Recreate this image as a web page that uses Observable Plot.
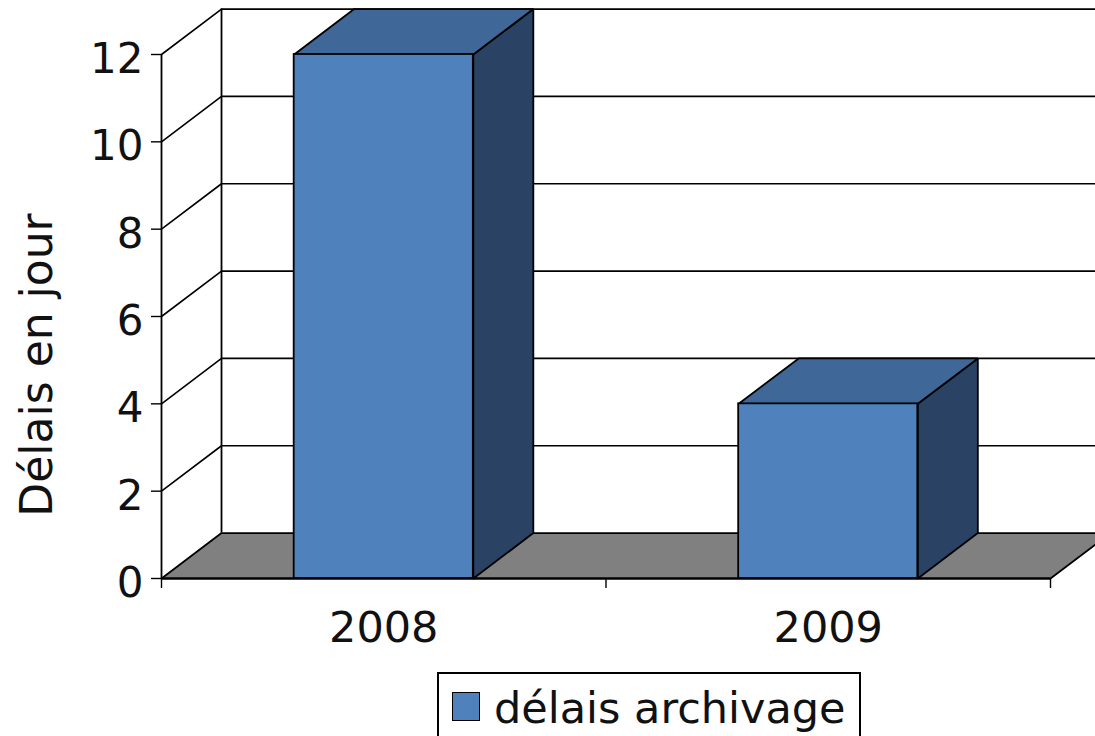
<!DOCTYPE html>
<html lang="fr">
<head>
<meta charset="utf-8">
<script src="https://cdn.jsdelivr.net/npm/d3@7"></script>
<script src="https://cdn.jsdelivr.net/npm/@observablehq/plot@0.6"></script>
<style>
html,body{margin:0;padding:0;background:#fff;overflow:hidden;width:1095px;height:736px}
#legend{position:absolute;left:437px;top:672px;width:420px;height:80px;border:2px solid #000;box-sizing:content-box;background:#fff;font:43px "DejaVu Sans",sans-serif;color:#111}
#legend i{position:absolute;left:13px;top:18px;width:26px;height:27px;background:#4F81BD;border:1.5px solid #000}
#legend span{position:absolute;left:55px;top:9px;white-space:nowrap}
</style>
</head>
<body>
<div id="chart"></div>
<div id="legend"><i></i><span>délais archivage</span></div>
<script>
const categories = ["2008", "2009"];
const delays = [12, 4];
const yTicks = [0, 2, 4, 6, 8, 10, 12];
const seriesName = "délais archivage";
const yTitle = "Délais en jour";

const depthX = 0.135, depthY = 1.04, barWidth = 0.403;
const colors = {front: "#4F81BD", top: "#3F6797", side: "#2A4365", floor: "#808080"};
const bars = categories.map((c, i) => ({c, v: delays[i], x1: i + 0.5 - barWidth / 2, x2: i + 0.5 + barWidth / 2}));

const poly = (pts) => pts.map(([x, y]) => ({x, y}));
const closed = (pts) => poly([...pts, pts[0]]);

const face = (pts, fill) => Plot.line(closed(pts), {x: "x", y: "y", fill, stroke: "#000", strokeWidth: 1.8, strokeLinejoin: "miter", curve: "linear"});

const gridLines = yTicks.slice(1).flatMap(v => [
  {x: 0, y: v, z: v}, {x: depthX, y: v + depthY, z: v}, {x: 2.2, y: v + depthY, z: v}
]);

const barMarks = bars.flatMap(b => [
  face([[b.x2, 0], [b.x2 + depthX, depthY], [b.x2 + depthX, b.v + depthY], [b.x2, b.v]], colors.side),
  face([[b.x1, b.v], [b.x2, b.v], [b.x2 + depthX, b.v + depthY], [b.x1 + depthX, b.v + depthY]], colors.top),
  Plot.rect([b], {x1: "x1", x2: "x2", y1: 0, y2: "v", fill: colors.front, stroke: "#000", strokeWidth: 1.8})
]);

const chart = Plot.plot({
  width: 1095, height: 672,
  marginTop: 0, marginRight: 0, marginBottom: 0, marginLeft: 0,
  style: {fontFamily: "'DejaVu Sans', sans-serif", color: "#000", background: "#fff", overflow: "hidden"},
  x: {type: "linear", domain: [0, 2], range: [161, 1050]},
  y: {type: "linear", domain: [0, 12], range: [578, 54]},
  marks: [
    Plot.line(gridLines, {x: "x", y: "y", z: "z", stroke: "#000", strokeWidth: 1.6}),
    face([[0, 0], [2, 0], [2 + depthX, depthY], [depthX, depthY]], colors.floor),
    Plot.ruleX([depthX], {y1: depthY, y2: 12 + depthY, stroke: "#000", strokeWidth: 1.8}),
    Plot.ruleY([0], {x1: 0, x2: 2, stroke: "#000", strokeWidth: 2}),
    ...barMarks,
    Plot.ruleX([0], {y1: 0, y2: 12, stroke: "#000", strokeWidth: 1.8}),
    Plot.axisY({ticks: yTicks, tickSize: 10, tickFormat: () => "", label: null, anchor: "left", x: 0, strokeWidth: 1.4}),
    Plot.axisX({ticks: [0, 1, 2], tickSize: 10, tickFormat: () => "", label: null, anchor: "bottom", y: 0, strokeWidth: 1.4}),
    Plot.text(yTicks, {x: 0, y: d => d, text: d => String(d), textAnchor: "end", dx: -18, dy: 5, fontSize: 42, fill: "#111"}),
    Plot.text(categories, {x: (d, i) => i + 0.5, y: 0, text: d => d, dy: 50, fontSize: 43, fill: "#111"}),
    Plot.text([yTitle], {x: -0.279, y: 4.89, text: d => d, rotate: -90, fontSize: 44, fill: "#111"})
  ]
});
document.getElementById("chart").appendChild(chart);
</script>
</body>
</html>
